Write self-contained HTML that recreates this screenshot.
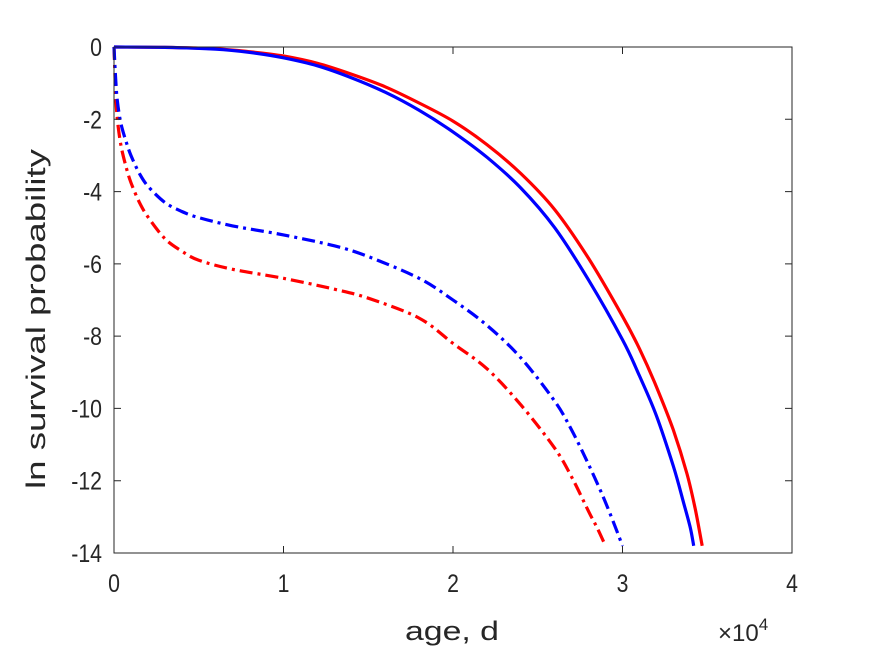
<!DOCTYPE html>
<html><head><meta charset="utf-8"><style>
html,body{margin:0;padding:0;background:#fff;}
svg{display:block;font-family:"Liberation Sans",Arial,sans-serif;}
</style></head><body>
<svg id="chart" width="875" height="656" viewBox="0 0 875 656">
<rect x="0" y="0" width="875" height="656" fill="#fff"/>
<g id="plot"></g>
<g id="axes"></g>
<text x="0" y="0" transform="translate(45,319) rotate(-90)" text-anchor="middle" font-size="27" textLength="340" lengthAdjust="spacingAndGlyphs" fill="#262626">ln survival probability</text>
<text x="405" y="640" font-size="27" textLength="94" lengthAdjust="spacingAndGlyphs" fill="#262626">age, d</text>
<text x="718" y="641" font-size="24" fill="#262626">×10<tspan font-size="17" dy="-11">4</tspan></text>
</svg>
<script>
const xTicks=[0,1,2,3,4];
const yTicks=[0,-2,-4,-6,-8,-10,-12,-14];
const redSolidX=[0,3000,6000,8000,10000,12000,14000,16000,18000,20000,22000,24000,26000,28000,30000,31000,32000,33000,33800,34300,34700];
const redSolidY=[0,-0.01,-0.05,-0.13,-0.25,-0.45,-0.75,-1.1,-1.55,-2.05,-2.7,-3.5,-4.5,-5.85,-7.45,-8.35,-9.4,-10.6,-11.8,-12.8,-13.8];
const blueSolidX=[0,3000,6000,8000,10000,12000,14000,16000,18000,20000,22000,24000,26000,28000,30000,31000,32000,33000,33600,34000,34200];
const blueSolidY=[0,-0.01,-0.06,-0.15,-0.3,-0.52,-0.85,-1.25,-1.75,-2.35,-3.05,-3.9,-5.0,-6.45,-8.1,-9.1,-10.2,-11.6,-12.6,-13.3,-13.8];
const blueDashX=[0,100,200,400,700,1000,1500,2000,3000,4000,5000,7000,10000,13000,15000,18000,20000,22000,24000,26000,27000,28000,29000,30000];
const blueDashY=[0,-0.9,-1.5,-2.1,-2.6,-3.0,-3.5,-3.85,-4.3,-4.55,-4.72,-4.95,-5.2,-5.5,-5.8,-6.4,-7.0,-7.7,-8.6,-9.8,-10.6,-11.55,-12.6,-13.8];
const redDashX=[0,100,200,400,700,1000,1500,2000,3000,4000,5000,7000,10000,13000,15000,18000,20000,22000,24000,26000,27000,28000,28500,29000];
const redDashY=[0,-1.3,-2.0,-2.7,-3.3,-3.75,-4.3,-4.7,-5.3,-5.65,-5.9,-6.15,-6.4,-6.7,-6.95,-7.5,-8.2,-8.9,-9.9,-11.1,-11.9,-12.85,-13.3,-13.8];
const X0=114,X1=792,Y0=47,Y1=553;
const sx=v=>X0+v/40000*(X1-X0);
const sy=v=>Y0+(0-v)/14*(Y1-Y0);
const NS="http://www.w3.org/2000/svg";
const plot=document.getElementById('plot'),axes=document.getElementById('axes');
function smoothPath(xs,ys){
  const P=xs.map((x,i)=>[sx(x),sy(ys[i])]);
  let d='M'+P[0][0].toFixed(1)+' '+P[0][1].toFixed(1);
  for(let i=0;i<P.length-1;i++){
    const p0=P[Math.max(i-1,0)],p1=P[i],p2=P[i+1],p3=P[Math.min(i+2,P.length-1)];
    const c1=[p1[0]+(p2[0]-p0[0])/6,p1[1]+(p2[1]-p0[1])/6];
    const c2=[p2[0]-(p3[0]-p1[0])/6,p2[1]-(p3[1]-p1[1])/6];
    d+=` C${c1[0].toFixed(1)} ${c1[1].toFixed(1)} ${c2[0].toFixed(1)} ${c2[1].toFixed(1)} ${p2[0].toFixed(1)} ${p2[1].toFixed(1)}`;
  }
  return d;
}
function line(xs,ys,color,dash,name){
  const p=document.createElementNS(NS,'path');
  
  
  p.setAttribute('d',smoothPath(xs,ys));
  p.setAttribute('fill','none');p.setAttribute('stroke',color);p.setAttribute('stroke-width','3.2');
  p.setAttribute('stroke-linejoin','round');
  if(dash)p.setAttribute('stroke-dasharray',dash);
  plot.appendChild(p);
}
line(redDashX,redDashY,'#ff0000','13 5 3 5','red-dashdot-line');
line(blueDashX,blueDashY,'#0000ff','13 5 3 5','blue-dashdot-line');
line(redSolidX,redSolidY,'#ff0000',null,'red-solid-line');
line(blueSolidX,blueSolidY,'#0000ff',null,'blue-solid-line');
const box=document.createElementNS(NS,'rect');


box.setAttribute('x',X0);box.setAttribute('y',Y0);box.setAttribute('width',X1-X0);box.setAttribute('height',Y1-Y0);
box.setAttribute('fill','none');box.setAttribute('stroke','#262626');box.setAttribute('stroke-width','1');
axes.appendChild(box);
xTicks.forEach(t=>{
  const x=sx(t*10000);
  const l=document.createElementNS(NS,'path');
  
  
  l.setAttribute('d',`M${x} ${Y1}V${Y1-7}M${x} ${Y0}V${Y0+7}`);l.setAttribute('stroke','#262626');
  axes.appendChild(l);
  const tx=document.createElementNS(NS,'text');
  
  
  tx.setAttribute('transform',`translate(${x},592) scale(0.85,1)`);
  tx.setAttribute('text-anchor','middle');
  tx.setAttribute('font-size','25');tx.setAttribute('fill','#262626');tx.textContent=t;
  axes.appendChild(tx);
});
yTicks.forEach(t=>{
  const y=sy(t);
  const l=document.createElementNS(NS,'path');
  
  
  l.setAttribute('d',`M${X0} ${y}H${X0+7}M${X1} ${y}H${X1-7}`);l.setAttribute('stroke','#262626');
  axes.appendChild(l);
  const tx=document.createElementNS(NS,'text');
  
  
  tx.setAttribute('transform',`translate(${X0-12},${y+9}) scale(0.85,1)`);
  tx.setAttribute('text-anchor','end');
  tx.setAttribute('font-size','25');tx.setAttribute('fill','#262626');tx.textContent=t;
  axes.appendChild(tx);
});
</script>
</body></html>
